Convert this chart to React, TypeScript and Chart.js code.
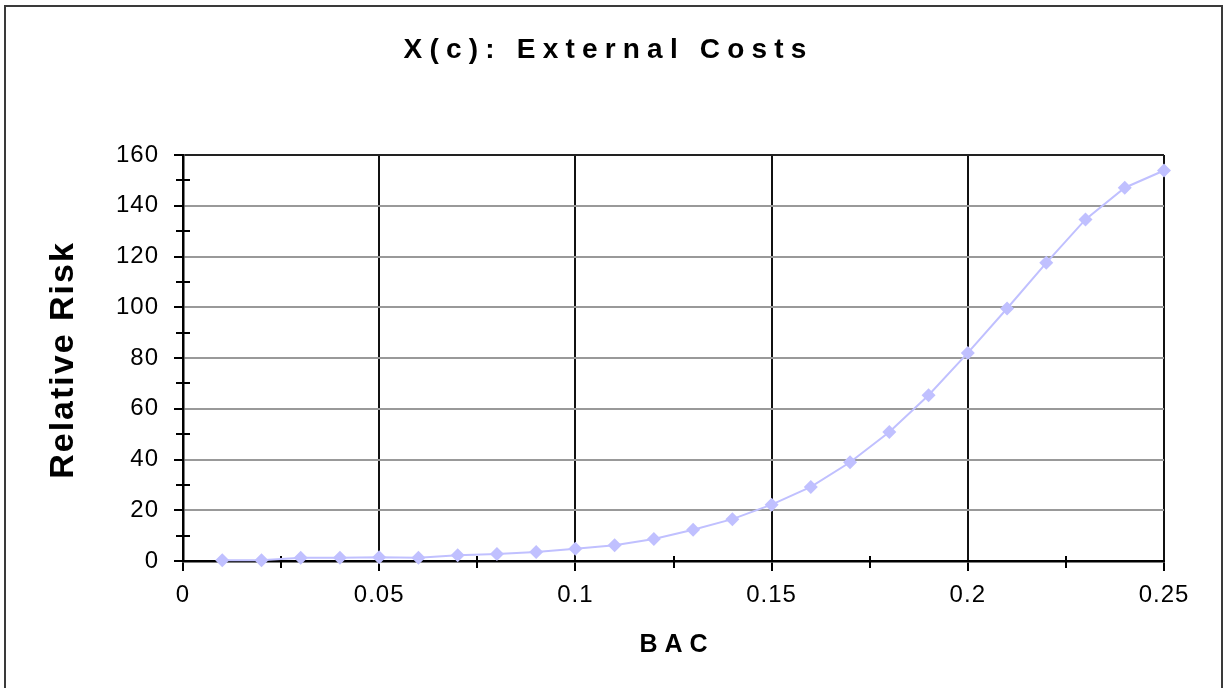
import React, { useEffect, useRef } from 'react';
import { Chart, registerables } from 'chart.js';

Chart.register(...registerables);

// ---- Data ----
const chartTitle = 'X(c): External Costs';
const xAxisTitle = 'BAC';
const yAxisTitle = 'Relative Risk';

const bac = [
  0.01, 0.02, 0.03, 0.04, 0.05, 0.06, 0.07, 0.08, 0.09, 0.1,
  0.11, 0.12, 0.13, 0.14, 0.15, 0.16, 0.17, 0.18, 0.19, 0.2,
  0.21, 0.22, 0.23, 0.24, 0.25,
];
const relativeRisk = [
  0.3, 0.3, 1.3, 1.3, 1.5, 1.3, 2.3, 2.8, 3.5, 4.8,
  6.2, 8.7, 12.3, 16.5, 22.2, 29.2, 38.9, 50.8, 65.3, 82,
  99.5, 117.5, 134.6, 147.1, 153.9,
];

const xTickValues = [0, 0.05, 0.1, 0.15, 0.2, 0.25];
const xTickLabels = ['0', '0.05', '0.1', '0.15', '0.2', '0.25'];
const yTickValues = [0, 20, 40, 60, 80, 100, 120, 140, 160];
const yTickLabels = ['0', '20', '40', '60', '80', '100', '120', '140', '160'];
const xMinorTicks = [0.025, 0.075, 0.125, 0.175, 0.225];
const yMinorTicks = [10, 30, 50, 70, 90, 110, 130, 150];

const FONT = '"Liberation Sans", Arial, sans-serif';
const SERIES_COLOR = '#c0c0ff';

function drawSpacedText(ctx: CanvasRenderingContext2D, text: string, cx: number, baseline: number, font: string, spacing: number) {
  ctx.save();
  ctx.font = font;
  (ctx as any).letterSpacing = spacing + 'px';
  ctx.textAlign = 'left';
  ctx.textBaseline = 'alphabetic';
  ctx.fillStyle = '#000';
  const w = ctx.measureText(text).width - spacing;
  ctx.fillText(text, cx - w / 2, baseline);
  ctx.restore();
}

const decorPlugin = {
  id: 'decor',
  beforeDraw(chart: any) {
    (chart.ctx as any).letterSpacing = '1px';
  },
  beforeDatasetsDraw(chart: any) {
    const { ctx, chartArea, scales } = chart;
    ctx.save();
    ctx.strokeStyle = '#000';
    ctx.lineWidth = 2;
    yMinorTicks.forEach((v) => {
      const y = Math.round(scales.y.getPixelForValue(v));
      ctx.beginPath();
      ctx.moveTo(chartArea.left - 7, y);
      ctx.lineTo(chartArea.left + 7, y);
      ctx.stroke();
    });
    xMinorTicks.forEach((v) => {
      const x = Math.round(scales.x.getPixelForValue(v));
      ctx.beginPath();
      ctx.moveTo(x, chartArea.bottom - 5);
      ctx.lineTo(x, chartArea.bottom + 7);
      ctx.stroke();
    });
    ctx.restore();
  },
  afterDraw(chart: any) {
    const { ctx, chartArea } = chart;
    // outer frame (left, top, right)
    ctx.save();
    ctx.strokeStyle = '#3a3a3a';
    ctx.lineWidth = 2;
    ctx.beginPath();
    ctx.moveTo(5, 700);
    ctx.lineTo(5, 6);
    ctx.lineTo(1222, 6);
    ctx.lineTo(1222, 700);
    ctx.stroke();
    ctx.restore();

    // chart title
    drawSpacedText(ctx, chartTitle, 605, 58, `bold 28px ${FONT}`, 7.2);
    // x-axis title
    const cx = (chartArea.left + chartArea.right) / 2;
    drawSpacedText(ctx, xAxisTitle, cx, 652, `bold 25px ${FONT}`, 7);
    // y-axis title (rotated)
    ctx.save();
    ctx.translate(73, (chartArea.top + chartArea.bottom) / 2 + 3);
    ctx.rotate(-Math.PI / 2);
    drawSpacedText(ctx, yAxisTitle, 0, 0, `bold 34px ${FONT}`, 2);
    ctx.restore();
  },
};

export default function App() {
  const canvasRef = useRef<HTMLCanvasElement | null>(null);

  useEffect(() => {
    if (!canvasRef.current) return;
    const points = bac.map((x, i) => ({ x, y: relativeRisk[i] }));
    const chart = new Chart(canvasRef.current, {
      type: 'line',
      data: {
        datasets: [
          {
            label: yAxisTitle,
            data: points,
            borderColor: SERIES_COLOR,
            backgroundColor: SERIES_COLOR,
            borderWidth: 2,
            pointStyle: 'rectRot',
            pointRadius: 7,
            pointBorderWidth: 0,
            pointBackgroundColor: SERIES_COLOR,
            tension: 0,
            clip: false as any,
          },
        ],
      },
      options: {
        animation: false,
        responsive: false,
        devicePixelRatio: 1,
        events: [],
        layout: { padding: { top: 155, right: 61, left: 0, bottom: 0 } },
        plugins: {
          legend: { display: false },
          tooltip: { enabled: false },
          title: { display: false },
        },
        scales: {
          x: {
            type: 'linear',
            min: 0,
            max: 0.25,
            afterBuildTicks: (scale: any) => {
              scale.ticks = xTickValues.map((v) => ({ value: v }));
            },
            afterFit: (scale: any) => {
              scale.height = 127;
            },
            ticks: {
              autoSkip: false,
              maxRotation: 0,
              padding: 10,
              color: '#000',
              font: { family: FONT, size: 24 },
              callback: (value: any) => {
                const i = xTickValues.findIndex((v) => Math.abs(v - Number(value)) < 1e-9);
                return i >= 0 ? xTickLabels[i] : '';
              },
            },
            grid: {
              color: '#111',
              lineWidth: 2,
              tickColor: '#000',
              tickLength: 10,
              drawTicks: true,
            },
            border: { color: '#000', width: 2.5 },
          },
          y: {
            type: 'linear',
            min: 0,
            max: 160,
            afterBuildTicks: (scale: any) => {
              scale.ticks = yTickValues.map((v) => ({ value: v }));
            },
            afterFit: (scale: any) => {
              scale.width = 183;
            },
            ticks: {
              autoSkip: false,
              padding: 15,
              color: '#000',
              font: { family: FONT, size: 24 },
              callback: (value: any) => {
                const i = yTickValues.indexOf(Number(value));
                return i >= 0 ? yTickLabels[i] : '';
              },
            },
            grid: {
              color: (c: any) => (c.tick && c.tick.value === 160 ? '#222' : '#999'),
              lineWidth: 2,
              tickColor: '#000',
              tickLength: 9,
            },
            border: { color: '#000', width: 2.5 },
          },
        },
      },
      plugins: [decorPlugin],
    } as any);
    return () => chart.destroy();
  }, []);

  return (
    <div style={{ position: 'fixed', left: 0, top: 0, width: 1225, height: 688, background: '#fff' }}>
      <canvas ref={canvasRef} width={1225} height={688} style={{ width: 1225, height: 688, display: 'block' }} />
    </div>
  );
}
